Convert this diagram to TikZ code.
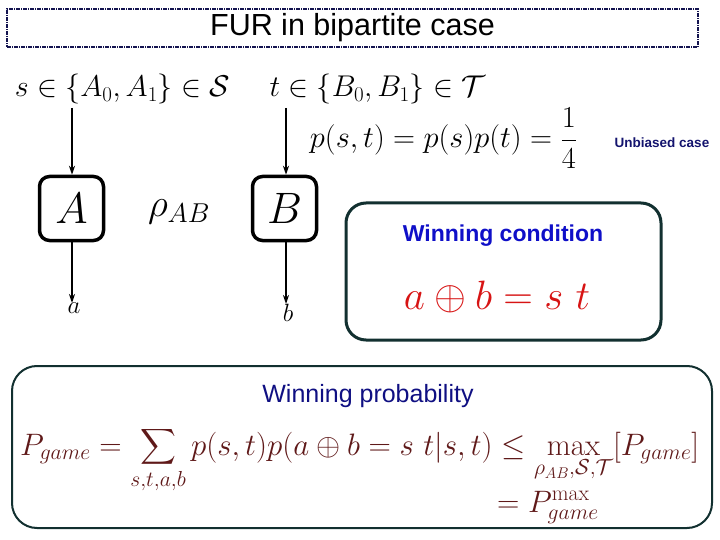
\RequirePackage{fix-cm}
\documentclass[tikz,border=0pt]{standalone}
\usepackage{amsmath}
\usepackage{fontspec}
\newfontfamily\arial{Liberation Sans}
\usetikzlibrary{arrows.meta}
\definecolor{navyborder}{RGB}{20,20,80}
\definecolor{tealborder}{RGB}{18,48,48}
\definecolor{condblue}{RGB}{15,15,200}
\definecolor{probnavy}{RGB}{15,15,130}
\definecolor{unbnavy}{RGB}{20,20,110}
\definecolor{condred}{RGB}{215,20,20}
\definecolor{maroon}{RGB}{95,25,25}
\tikzset{
  titlebox/.style={draw=navyborder, line width=1.8pt, dash pattern=on 4pt off 1pt on 1pt off 1pt, minimum width=691pt, minimum height=38pt, inner sep=0pt},
  agent/.style={draw=black, line width=3.5pt, rounded corners=10pt, minimum width=64pt, minimum height=64pt, inner sep=0pt, font=\fontsize{44}{50}\selectfont},
  panel/.style={draw=tealborder, rounded corners=20pt, inner sep=0pt},
  flow/.style={line width=1.5pt, -{Stealth[length=9pt,width=6pt]}},
  mathbig/.style={font=\fontsize{30}{35}\selectfont, inner sep=0pt},
}
\begin{document}
\begin{tikzpicture}[x=1pt,y=-1pt]
\useasboundingbox (0,0) rectangle (720,540);
% title
\node[titlebox, font=\arial\fontsize{30.5}{35}\selectfont] (title) at (352.5,28) {FUR in bipartite case};
% inputs
\node[mathbig, anchor=base] (sin) at (122.5,97) {$s\in\{A_0,A_1\}\in\mathcal{S}$};
\node[mathbig, anchor=base] (tin) at (377.5,97) {$t\in\{B_0,B_1\}\in\mathcal{T}$};
\node[mathbig, font=\fontsize{30.5}{35}\selectfont, anchor=base] (pst) at (443.5,148) {$\displaystyle p(s,t)=p(s)p(t)=\frac{1}{4}$};
\node[font=\arial\bfseries\fontsize{13.5}{15}\selectfont, text=unbnavy, inner sep=0pt] (unb) at (662,143) {Unbiased case};
% agents
\node[agent] (A) at (71.5,208.5) {$A$};
\node[agent] (B) at (284.5,208.5) {$B$};
\node[font=\fontsize{39}{44}\selectfont, inner sep=0pt] (rho) at (179,212) {$\rho_{AB}$};
\coordinate (sA) at (72,108);
\coordinate (tB) at (286,108);
\node[font=\fontsize{25}{28}\selectfont, anchor=north, inner sep=0pt] (a) at (74,303) {$a$};
\node[font=\fontsize{25}{28}\selectfont, anchor=north, inner sep=0pt] (b) at (288,304) {$b$};
\draw[flow] (sA) -- (sA |- A.north);
\draw[flow] (tB) -- (tB |- B.north);
\draw[flow] (sA |- A.south) -- (sA |- a.north);
\draw[flow] (tB |- B.south) -- (tB |- b.north);
% winning condition
\node[panel, line width=3pt, minimum width=315pt, minimum height=137pt] (cond) at (503.5,271.5) {};
\node[font=\arial\bfseries\fontsize{23}{26}\selectfont, text=condblue, inner sep=0pt] (condt) at (503,236) {Winning condition};
\node[font=\fontsize{41}{46}\selectfont, text=condred, inner sep=0pt] (condf) at (497,297) {$a\oplus b=s\ t$};
% winning probability
\node[panel, line width=2pt, rounded corners=25pt, minimum width=700pt, minimum height=162pt] (prob) at (362,447) {};
\node[font=\arial\fontsize{25}{29}\selectfont, text=probnavy, inner sep=0pt] (probt) at (368,396) {Winning probability};
\node[font=\fontsize{31}{36}\selectfont, text=maroon, anchor=base west, inner sep=0pt] (pf) at (20,455)
  {$\displaystyle P_{game}=\sum_{s,t,a,b}p(s,t)p(a\oplus b=s\ t|s,t)\leq\max_{\rule{0pt}{0.5em}\rho_{AB},\mathcal{S},\mathcal{T}}[P_{game}]$};
\node[font=\fontsize{31}{36}\selectfont, text=maroon, anchor=base west, inner sep=0pt] (pf2) at (497,512)
  {$=P_{game}^{\max}$};
\end{tikzpicture}
\end{document}
